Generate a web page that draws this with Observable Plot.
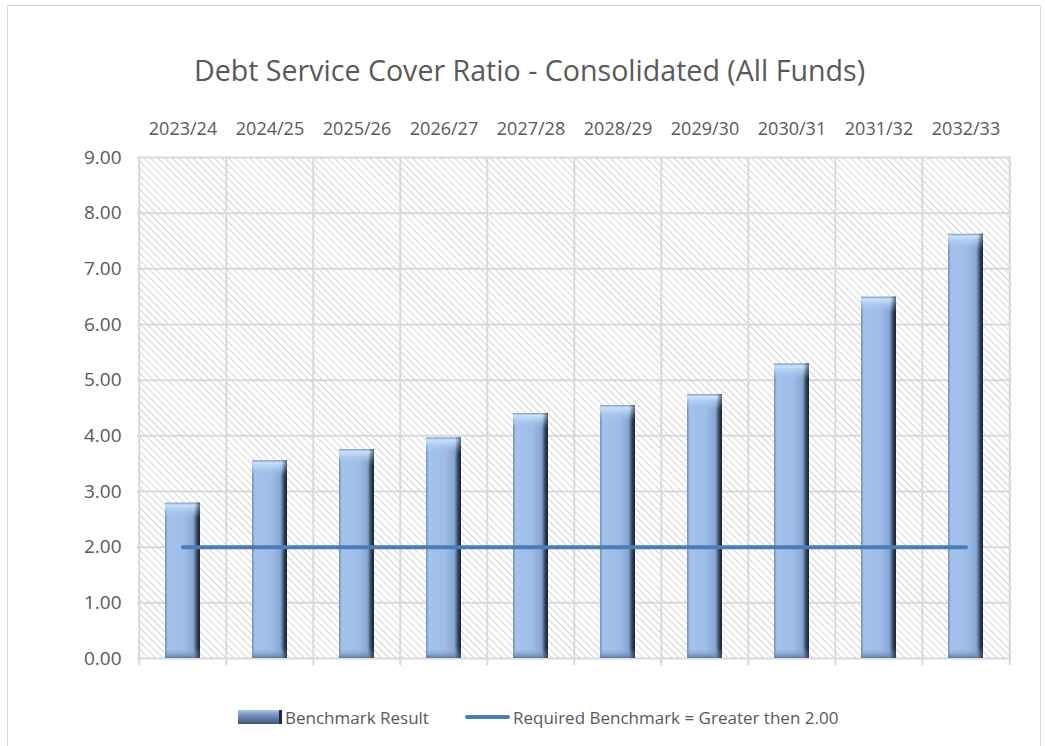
<!DOCTYPE html>
<html><head><meta charset="utf-8">
<script src="https://cdn.jsdelivr.net/npm/d3@7"></script>
<script src="https://cdn.jsdelivr.net/npm/@observablehq/plot@0.6"></script>
<style>
body{margin:0;background:#fff;font-family:"Open Sans",sans-serif;width:1045px;height:746px;overflow:hidden;position:relative;}
#frame{position:absolute;left:7px;top:5px;width:1032px;height:760px;border:1px solid #d9d9d9;border-bottom:none;}
#title{position:absolute;left:0;top:50px;width:1059px;text-align:center;font-size:28.6px;color:#595959;white-space:nowrap;}
#chart{position:absolute;left:0;top:100px;}
#legend{position:absolute;top:704px;left:0;width:1045px;height:26px;font-size:17px;color:#595959;}
.item{position:absolute;top:0;display:flex;align-items:center;height:26px;}
.sw1{width:44px;height:14px;margin-right:3px;background:linear-gradient(to bottom,#a9c6ec 0%,#7c9ac4 30%,#3f5677 100%);border-right:3px solid #1f2c3d;box-sizing:border-box;}
.sw2{width:45px;height:4px;border-radius:2px;background:#4a7db8;margin-right:3px;}
</style></head>
<body>
<div id="frame"></div>
<div id="title">Debt Service Cover Ratio - Consolidated (All Funds)</div>
<div id="chart"></div>
<div id="legend">
  <div class="item" style="left:238px"><div class="sw1"></div><span>Benchmark Result</span></div>
  <div class="item" style="left:465px"><div class="sw2"></div><span>Required Benchmark = Greater then 2.00</span></div>
</div>
<script>
const years = ["2023/24","2024/25","2025/26","2026/27","2027/28","2028/29","2029/30","2030/31","2031/32","2032/33"];
const results = [2.79, 3.55, 3.75, 3.96, 4.40, 4.54, 4.74, 5.29, 6.49, 7.62];
const required = [2, 2, 2, 2, 2, 2, 2, 2, 2, 2];
const yTicks = [0,1,2,3,4,5,6,7,8,9];

const data = years.map((y,i)=>({year:y, value:results[i], req:required[i]}));

const W = 1045, ML = 137, MR = 34;
const step = (W - ML - MR) / years.length;

const plot = Plot.plot({
  width: W, height: 580,
  marginLeft: ML, marginRight: MR, marginTop: 57, marginBottom: 22,
  style: {fontFamily: '"Open Sans",sans-serif', color: "#595959", background: "transparent"},
  x: {domain: years, paddingInner: 0.6, paddingOuter: 0.3, axis: null, label: null},
  y: {domain: [0, 9], axis: null, label: null},
  marks: [
    Plot.frame({fill: "url(#hatch)", stroke: null}),
    Plot.ruleY(yTicks, {stroke: "#d9d9d9", strokeWidth: 2}),
    Plot.ruleX(years, {x: d => d, y1: -0.13, y2: 9, dx: -step/2, stroke: "#d9d9d9", strokeWidth: 2}),
    Plot.ruleX(years.slice(-1), {x: d => d, y1: -0.13, y2: 9, dx: step/2, stroke: "#d9d9d9", strokeWidth: 2}),
    Plot.barY(data, {x: "year", y: "value", fill: "url(#barGrad)"}),
    Plot.barY(data, {x: "year", y1: "value", y2: "value", insetBottom: -16, fill: "url(#topGrad)"}),
    Plot.barY(data, {x: "year", y1: 0, y2: 0, insetTop: -10, fill: "url(#botGrad)"}),
    Plot.barY(data, {x: "year", y: "value", fill: "url(#edgeGrad)"}),
    Plot.lineY(data, {x: "year", y: "req", stroke: "#4a7db8", strokeWidth: 4, strokeLinecap: "round"}),
    Plot.axisX({anchor: "top", tickSize: 0, tickPadding: 23, fontSize: 18, label: null}),
    Plot.axisY(yTicks, {anchor: "left", tickSize: 0, tickPadding: 16, fontSize: 19, label: null, tickFormat: d => d.toFixed(2)})
  ]
});

const svg = d3.select(plot);
svg.insert("defs", ":first-child").html(`
  <pattern id="hatch" patternUnits="userSpaceOnUse" width="5" height="5" patternTransform="rotate(-45)">
    <rect width="5" height="5" fill="#ffffff"/>
    <line x1="0" y1="0" x2="0" y2="5" stroke="#d4d4d4" stroke-width="2"/>
  </pattern>
  <linearGradient id="barGrad" x1="0" x2="1" y1="0" y2="0">
    <stop offset="0" stop-color="#6f8db8"/>
    <stop offset="0.08" stop-color="#a3c2ec"/>
    <stop offset="0.55" stop-color="#9dbde8"/>
    <stop offset="0.8" stop-color="#88a8d4"/>
    <stop offset="0.9" stop-color="#4e6687"/>
    <stop offset="1" stop-color="#1c2533"/>
  </linearGradient>
  <linearGradient id="topGrad" x1="0" x2="0" y1="0" y2="1">
    <stop offset="0" stop-color="#7e9dc6"/>
    <stop offset="0.15" stop-color="#c9e1fb"/>
    <stop offset="1" stop-color="#9dbde8" stop-opacity="0"/>
  </linearGradient>
  <linearGradient id="botGrad" x1="0" x2="0" y1="0" y2="1">
    <stop offset="0" stop-color="#9dbde8" stop-opacity="0"/>
    <stop offset="1" stop-color="#5f7aa0"/>
  </linearGradient>
  <linearGradient id="edgeGrad" x1="0" x2="1" y1="0" y2="0">
    <stop offset="0" stop-color="#000" stop-opacity="0"/>
    <stop offset="0.85" stop-color="#000" stop-opacity="0"/>
    <stop offset="1" stop-color="#1c2533" stop-opacity="0.6"/>
  </linearGradient>
`);
document.getElementById("chart").appendChild(plot);
</script>
</body></html>
